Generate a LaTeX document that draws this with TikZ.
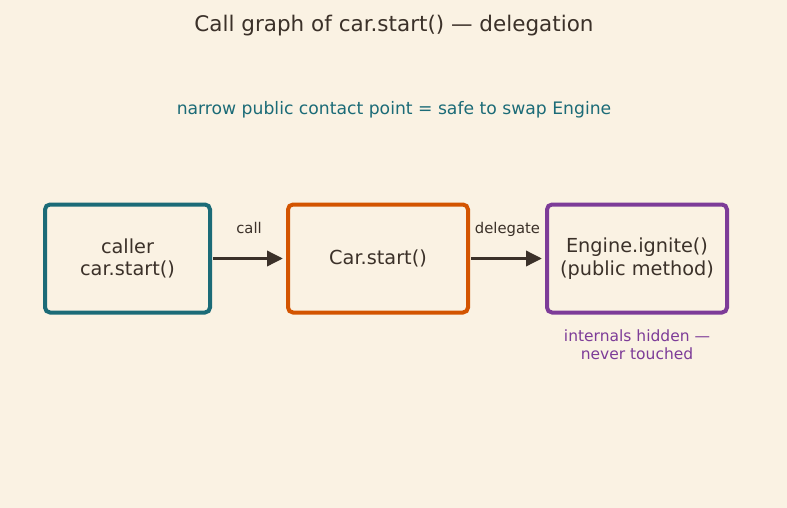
\documentclass[tikz,border=0pt]{standalone}
\usepackage{fontspec}
\setmainfont{DejaVu Sans}
\usetikzlibrary{positioning,arrows.meta}
\definecolor{cgbg}{HTML}{FAF2E3}
\definecolor{cgink}{HTML}{3B3129}
\definecolor{cgteal}{HTML}{1B6B77}
\definecolor{cgorange}{HTML}{D35400}
\definecolor{cgpurple}{HTML}{7D3C98}

\tikzset{
  callbox/.style={draw, line width=4pt, rounded corners=5pt, fill=cgbg, text=cgink,
    align=center, font=\fontsize{19.3}{22.5}\selectfont, minimum height=108pt},
  callarrow/.style={-{Triangle[length=16pt,width=15pt]}, line width=3.5pt, cgink,
    shorten >=3pt, shorten <=1pt},
  arrowlabel/.style={font=\fontsize{14.8}{17}\selectfont, text=cgink, anchor=base, yshift=25pt},
}

\begin{document}
\begin{tikzpicture}[x=1pt, y=-1pt]
    \fill[cgbg] (0,0) rectangle (787,508);
    \useasboundingbox (0,0) rectangle (787,508);
    % heading
    \node[font=\fontsize{21.5}{25}\selectfont, text=cgink, anchor=base] (title) at (394,31.7)
      {Call graph of car.start() — delegation};
    \node[font=\fontsize{17.2}{20}\selectfont, text=cgteal, anchor=base] (claim) at (394,114.8)
      {narrow public contact point = safe to swap Engine};
    % the three boxes
    \node[callbox, draw=cgteal, minimum width=165pt] (caller) at (127.5,258.5) {caller\\car.start()};
    \node[callbox, draw=cgorange, minimum width=180pt] (car) at (378,258.5) {Car.start()};
    \node[callbox, draw=cgpurple, minimum width=180pt] (eng) at (637,258.5) {Engine.ignite()\\(public method)};
    \node[font=\fontsize{15.5}{17.5}\selectfont, text=cgpurple, align=center, below=12pt of eng] (hidden)
      {internals hidden —\\never touched};
    % calls
    \draw[callarrow] (caller) -- (car) node[arrowlabel, midway] {call};
    \draw[callarrow] (car) -- (eng) node[arrowlabel, midway] {delegate};
\end{tikzpicture}
\end{document}
